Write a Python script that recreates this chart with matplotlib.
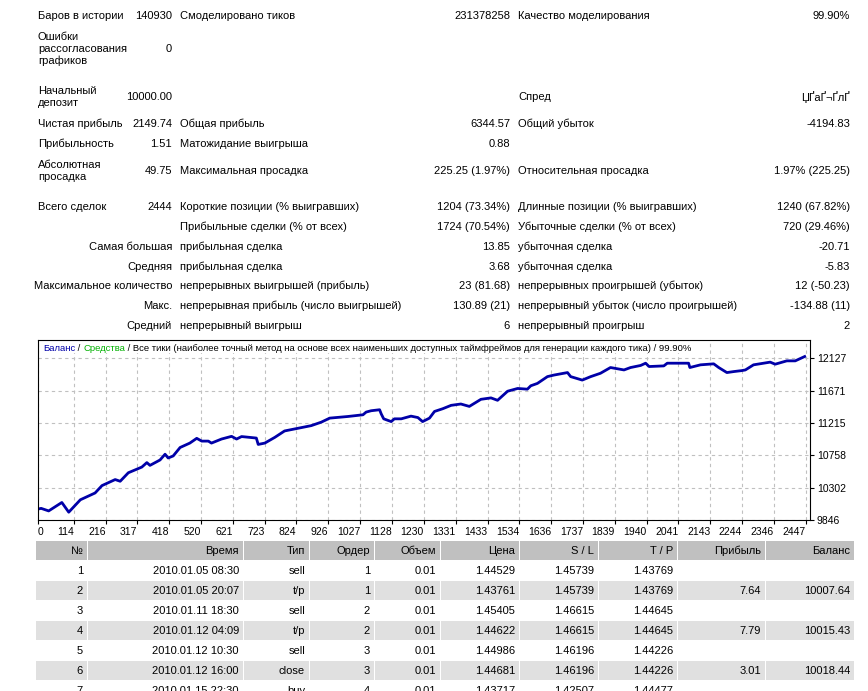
import matplotlib
matplotlib.use('Agg')
import matplotlib.pyplot as plt
from matplotlib.patches import Rectangle

plt.rcParams['font.family'] = ['Liberation Sans', 'DejaVu Sans']
plt.rcParams['font.size'] = 8

# summary block: (row y, label, value, label2, value2, label3, value3)
summary_rows = [
    (16, 'Баров в истории', '140930', 'Смоделировано тиков', '231378258', 'Качество моделирования', '99.90%'),
    (49, 'Ошибки\nрассогласования\nграфиков', '0', '', '', '', ''),
    (97, 'Начальный\nдепозит', '10000.00', '', '', 'Спред', 'ЏҐаҐ¬ҐлҐ'),
    (124, 'Чистая прибыль', '2149.74', 'Общая прибыль', '6344.57', 'Общий убыток', '-4194.83'),
    (144, 'Прибыльность', '1.51', 'Матожидание выигрыша', '0.88', '', ''),
    (171, 'Абсолютная\nпросадка', '49.75', 'Максимальная просадка', '225.25 (1.97%)', 'Относительная просадка', '1.97% (225.25)'),
    (207, 'Всего сделок', '2444', 'Короткие позиции (% выигравших)', '1204 (73.34%)', 'Длинные позиции (% выигравших)', '1240 (67.82%)'),
    (227, '', '', 'Прибыльные сделки (% от всех)', '1724 (70.54%)', 'Убыточные сделки (% от всех)', '720 (29.46%)'),
]
detail_rows = [
    (247, 'Самая большая', 'прибыльная сделка', '13.85', 'убыточная сделка', '-20.71'),
    (267, 'Средняя', 'прибыльная сделка', '3.68', 'убыточная сделка', '-5.83'),
    (286, 'Максимальное количество', 'непрерывных выигрышей (прибыль)', '23 (81.68)', 'непрерывных проигрышей (убыток)', '12 (-50.23)'),
    (306, 'Макс.', 'непрерывная прибыль (число выигрышей)', '130.89 (21)', 'непрерывный убыток (число проигрышей)', '-134.88 (11)'),
    (326, 'Средний', 'непрерывный выигрыш', '6', 'непрерывный проигрыш', '2'),
]

# balance curve
trade_no = [0, 10, 34, 76, 98, 135, 182, 204, 246, 262, 288, 331, 347, 357, 389, 405, 415, 431,
            453, 484, 506, 522, 543, 553, 585, 617, 633, 649, 696, 702, 723, 755, 786, 829, 871,
            903, 930, 988, 1036, 1046, 1062, 1089, 1094, 1102, 1126, 1136, 1158, 1189, 1211, 1226,
            1248, 1264, 1290, 1317, 1348, 1375, 1412, 1444, 1465, 1497, 1529, 1560, 1571, 1592,
            1624, 1645, 1688, 1698, 1735, 1762, 1793, 1825, 1868, 1889, 1921, 1937, 1948, 1995,
            2006, 2074, 2078, 2112, 2154, 2170, 2196, 2218, 2244, 2255, 2281, 2334, 2350, 2387,
            2414, 2444]
balance = [10000, 10010, 9974, 10093, 9956, 10131, 10227, 10331, 10416, 10392, 10512, 10592, 10655,
           10616, 10692, 10773, 10720, 10749, 10868, 10930, 10997, 10958, 10958, 10930, 10987,
           11025, 10987, 11022, 11001, 10911, 10930, 11011, 11101, 11139, 11176, 11225, 11282,
           11305, 11329, 11367, 11386, 11400, 11343, 11272, 11233, 11272, 11272, 11310, 11290,
           11233, 11282, 11376, 11414, 11462, 11481, 11447, 11547, 11567, 11533, 11661, 11700,
           11690, 11738, 11771, 11867, 11889, 11924, 11867, 11818, 11867, 11914, 11995, 11961,
           11995, 12024, 12056, 12009, 12018, 12056, 12056, 11995, 12033, 12047, 11995, 11924,
           11938, 11952, 11961, 12033, 12071, 12042, 12089, 12089, 12150]

x_ticks = [0, 114, 216, 317, 418, 520, 621, 723, 824, 926, 1027, 1128, 1230, 1331, 1433, 1534,
           1636, 1737, 1839, 1940, 2041, 2143, 2244, 2346, 2447]
y_ticks = [9846, 10302, 10758, 11215, 11671, 12127]

# deals table
table_header = ['№', 'Время', 'Тип', 'Ордер', 'Объем', 'Цена', 'S / L', 'T / P', 'Прибыль', 'Баланс']
table_rows = [
    ['1', '2010.01.05 08:30', 'sell', '1', '0.01', '1.44529', '1.45739', '1.43769', '', ''],
    ['2', '2010.01.05 20:07', 't/p', '1', '0.01', '1.43761', '1.45739', '1.43769', '7.64', '10007.64'],
    ['3', '2010.01.11 18:30', 'sell', '2', '0.01', '1.45405', '1.46615', '1.44645', '', ''],
    ['4', '2010.01.12 04:09', 't/p', '2', '0.01', '1.44622', '1.46615', '1.44645', '7.79', '10015.43'],
    ['5', '2010.01.12 10:30', 'sell', '3', '0.01', '1.44986', '1.46196', '1.44226', '', ''],
    ['6', '2010.01.12 16:00', 'close', '3', '0.01', '1.44681', '1.46196', '1.44226', '3.01', '10018.44'],
    ['7', '2010.01.15 22:30', 'buy', '4', '0.01', '1.43717', '1.42507', '1.44477', '', ''],
]
col_edges = [36, 88, 244, 310, 375, 441, 520, 599, 678, 766, 855]

W, H = 868, 691
fig = plt.figure(figsize=(W / 100, H / 100), dpi=100)
bg = fig.add_axes([0, 0, 1, 1])
bg.set_xlim(0, W)
bg.set_ylim(H, 0)
bg.axis('off')

txt = '#000000'
for y, l1, v1, l2, v2, l3, v3 in summary_rows:
    bg.text(38, y, l1, ha='left', va='center', color=txt)
    bg.text(172, y, v1, ha='right', va='center', color=txt)
    bg.text(180, y, l2, ha='left', va='center', color=txt)
    bg.text(510, y, v2, ha='right', va='center', color=txt)
    bg.text(518, y, l3, ha='left', va='center', color=txt)
    bg.text(850, y, v3, ha='right', va='center', color=txt)

for y, l1, l2, v2, l3, v3 in detail_rows:
    bg.text(172, y, l1, ha='right', va='center', color=txt)
    bg.text(180, y, l2, ha='left', va='center', color=txt)
    bg.text(510, y, v2, ha='right', va='center', color=txt)
    bg.text(518, y, l3, ha='left', va='center', color=txt)
    bg.text(850, y, v3, ha='right', va='center', color=txt)

# table
def draw_row(y0, y1, cells, face):
    for i, c in enumerate(cells):
        x0, x1 = col_edges[i], col_edges[i + 1]
        if face is not None:
            bg.add_patch(Rectangle((x0, y0), x1 - x0 - 1, y1 - y0, facecolor=face, edgecolor='none'))
        bg.text(x1 - 5, (y0 + y1) / 2, c, ha='right', va='center', color=txt)

draw_row(541, 560, table_header, '#c0c0c0')
for k, row in enumerate(table_rows):
    y0 = 561 + 20 * k
    draw_row(y0, y0 + 19, row, '#e0e0e0' if k % 2 == 1 else None)

# balance chart
ax = fig.add_axes([38 / W, 1 - 520 / H, (810 - 38) / W, (520 - 340) / H])
ax.plot(trade_no, balance, color='#0000a8', lw=2)
ax.set_xlim(0, 2461)
ax.set_ylim(9846, 12383)
ax.set_xticks(x_ticks)
ax.set_xticklabels([str(t) for t in x_ticks])
for i, lab in enumerate(ax.get_xticklabels()):
    lab.set_ha('left' if i == 0 else 'right')
ax.set_yticks(y_ticks)
ax.yaxis.tick_right()
ax.tick_params(axis='both', length=3, width=0.8, pad=2, labelsize=7.5)
ax.grid(True, color='#c0c0c0', linestyle=(0, (3, 3)), lw=0.8)
for s in ax.spines.values():
    s.set_linewidth(0.8)
    s.set_color('#000000')

# coloured title inside the chart (figure-level text so it sits above the chart)
fig.canvas.draw()
renderer = fig.canvas.get_renderer()
parts = [('Баланс', '#0000a8'), (' / ', '#000000'), ('Средства', '#00b000'),
         (' / Все тики (наиболее точный метод на основе всех наименьших доступных таймфреймов для генерации каждого тика) / 99.90%', '#000000')]
x = 43
for s, c in parts:
    t = fig.text(x, 348, s, ha='left', va='center', color=c, transform=bg.transData,
                 fontsize=6.8, zorder=5, bbox=dict(facecolor='white', edgecolor='none', pad=0.3))
    bb = t.get_window_extent(renderer)
    x = bg.transData.inverted().transform((bb.x1, 0))[0]

fig.savefig('out.png', dpi=100, facecolor='white')
